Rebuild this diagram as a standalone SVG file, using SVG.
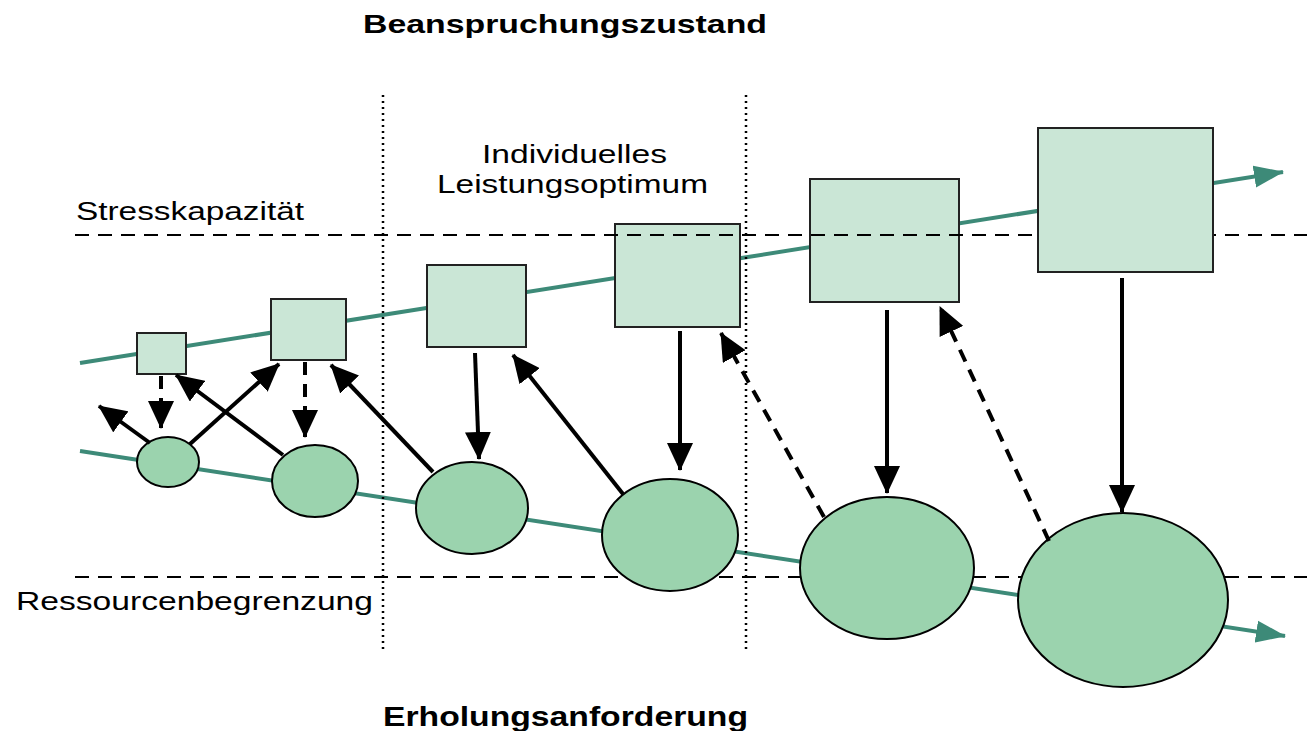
<svg xmlns="http://www.w3.org/2000/svg" width="1307" height="731" viewBox="0 0 1307 731">
<style>
.t{font-family:"Liberation Sans",Arial,sans-serif;fill:#000}
.b{font-weight:bold}
.trend{stroke:#3d8a78;stroke-width:4;fill:none}
.lim{stroke:#000;stroke-width:2;stroke-dasharray:14 9;fill:none}
.dot{stroke:#000;stroke-width:2.5;stroke-dasharray:2 4;fill:none}
.box rect{fill:#cae6d6;stroke:#222;stroke-width:2}
.node ellipse{fill:#9bd3ae;stroke:#000;stroke-width:2}
.arr{stroke:#000;stroke-width:4;fill:none;marker-end:url(#ah)}
.dash{stroke-dasharray:13 9}
</style>
<defs>
<marker id="ah" markerUnits="userSpaceOnUse" markerWidth="28" markerHeight="26" refX="27" refY="13" orient="auto">
<path d="M0,0 L28,13 L0,26 z" fill="#000"/>
</marker>
<marker id="th" markerUnits="userSpaceOnUse" markerWidth="30" markerHeight="24" refX="29" refY="12" orient="auto">
<path d="M0,1 L30,12 L0,23 z" fill="#3d8a78"/>
</marker>
</defs>

<g id="trend-lines">
<line class="trend" x1="80" y1="363" x2="1283" y2="172" marker-end="url(#th)"/>
<line class="trend" x1="80" y1="451" x2="1285" y2="636" marker-end="url(#th)"/>
</g>
<line id="limit-lower" class="lim" x1="75" y1="577" x2="1307" y2="577"/>

<g id="box1" class="box"><rect x="137" y="333" width="49" height="41"/></g>
<g id="box2" class="box"><rect x="271" y="299" width="75" height="61"/></g>
<g id="box3" class="box"><rect x="427" y="265" width="99" height="82"/></g>
<g id="box4" class="box"><rect x="615" y="224" width="125" height="103"/></g>
<g id="box5" class="box"><rect x="810" y="179" width="149" height="123"/></g>

<g id="node1" class="node"><ellipse cx="168" cy="462" rx="31" ry="25"/></g>
<g id="node2" class="node"><ellipse cx="315" cy="481" rx="43" ry="36"/></g>
<g id="node3" class="node"><ellipse cx="472" cy="508" rx="56" ry="46"/></g>
<g id="node4" class="node"><ellipse cx="670" cy="535" rx="68" ry="56"/></g>
<g id="node5" class="node"><ellipse cx="887" cy="568" rx="87" ry="71"/></g>
<g id="node6" class="node"><ellipse cx="1123" cy="600" rx="105" ry="87"/></g>

<line id="limit-upper" class="lim" x1="75" y1="235" x2="1307" y2="235"/>
<g id="box6" class="box"><rect x="1038" y="128" width="175" height="144"/></g>
<g id="zone-bounds">
<line class="dot" x1="383" y1="95" x2="383" y2="653"/>
<line class="dot" x1="746" y1="95" x2="746" y2="653"/>
</g>

<g id="connectors">
<line class="arr dash" x1="161" y1="376" x2="161" y2="428"/>
<line class="arr" x1="150" y1="443" x2="99" y2="406"/>
<line class="arr" x1="190" y1="444" x2="279" y2="364"/>
<line class="arr" x1="283" y1="455" x2="176" y2="375"/>
<line class="arr dash" x1="305" y1="362" x2="305" y2="437"/>
<line class="arr" x1="433" y1="472" x2="331" y2="365"/>
<line class="arr" x1="475" y1="353" x2="479" y2="459"/>
<line class="arr" x1="623" y1="494" x2="513" y2="355"/>
<line class="arr" x1="680" y1="331" x2="680" y2="470"/>
<line class="arr dash" x1="824" y1="517" x2="721" y2="333"/>
<line class="arr" x1="887" y1="310" x2="887" y2="493"/>
<line class="arr dash" x1="1049" y1="541" x2="940" y2="307"/>
<line class="arr" x1="1122" y1="278" x2="1122" y2="512"/>
</g>

<g id="labels">
<text class="t b" x="363" y="33" font-size="25" textLength="404" lengthAdjust="spacingAndGlyphs">Beanspruchungszustand</text>
<text class="t b" x="383" y="726" font-size="27" textLength="365" lengthAdjust="spacingAndGlyphs">Erholungsanforderung</text>
<text class="t" x="76" y="220" font-size="25" textLength="228" lengthAdjust="spacingAndGlyphs">Stresskapazität</text>
<text class="t" x="16" y="610" font-size="25" textLength="357" lengthAdjust="spacingAndGlyphs">Ressourcenbegrenzung</text>
<text class="t" x="482" y="163" font-size="25" textLength="185" lengthAdjust="spacingAndGlyphs">Individuelles</text>
<text class="t" x="437" y="193" font-size="25" textLength="271" lengthAdjust="spacingAndGlyphs">Leistungsoptimum</text>
</g>
</svg>
